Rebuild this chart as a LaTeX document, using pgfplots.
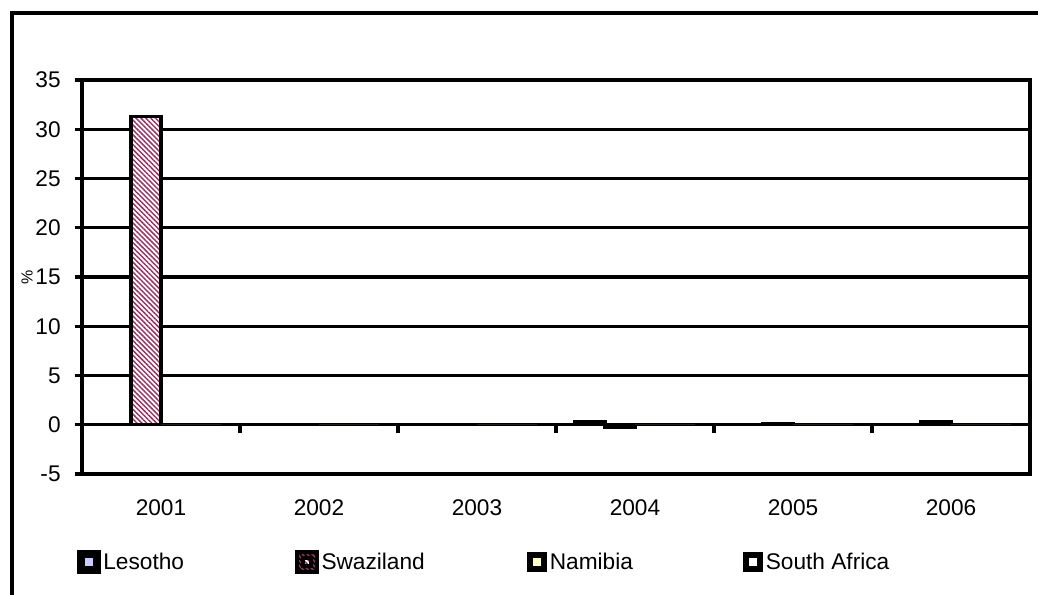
\documentclass[border=0pt]{standalone}
\usepackage{fontspec}
\setmainfont{Liberation Sans}
\usepackage{pgfplots}
\pgfplotsset{compat=1.18}
\usetikzlibrary{patterns.meta}
\definecolor{lesc}{RGB}{204,204,255}
\definecolor{swac}{RGB}{153,51,102}
\definecolor{namc}{RGB}{255,255,204}
\pgfplotsset{boxlegend/.style={legend image code/.code={%
  \fill[black] (0pt,-7.5pt) rectangle (15pt,7.5pt);
  \path[##1, draw=none] (4.5pt,-3pt) rectangle (10.5pt,3pt);}}}
\begin{document}
\begin{tikzpicture}[x=0.75pt,y=0.75pt]
\path[use as bounding box] (0,0) rectangle (1038,595);
\draw[line width=3pt] (12,0) -- (12,582) -- (1038,582);
\begin{axis}[
  at={(61.5pt,90.75pt)}, anchor=south west,
  scale only axis, width=711pt, height=295.5pt,
  xmin=0.5, xmax=6.5, ymin=-5, ymax=35,
  ybar=0pt, bar width=22.5pt,
  font=\fontsize{17}{20}\selectfont,
  /pgf/number format/assume math mode=true,
  xtick={1,2,3,4,5,6},
  xticklabels={2001,2002,2003,2004,2005,2006},
  x tick style={draw=none},
  xticklabel style={yshift=-10pt},
  ytick={-5,0,5,10,15,20,25,30,35},
  ytick pos=left, tick align=outside,
  major tick length=5.5pt,
  y tick style={black, line width=2.4pt},
  ymajorgrids, grid style={black, line width=2.5pt},
  axis line style={black, line width=2.6pt},
  yticklabel style={xshift=-7pt},
  ylabel={\%},
  ylabel style={at={(-0.058,0.5)}, anchor=center, font=\fontsize{12}{14}\selectfont},
  legend columns=4,
  legend style={draw=none, at={(-0.0053,-0.2234)}, anchor=west, inner sep=0pt,
    font=\fontsize{17}{20}\selectfont,
    /tikz/every odd column/.append style={column sep=0pt},
    /tikz/every even column/.append style={column sep=0pt}},
]
\addplot[boxlegend, draw=black, line width=2.6pt, fill=lesc] coordinates {(4,0.3)};
\addplot[boxlegend, draw=black, line width=2.6pt, fill=white, postaction={pattern={Lines[angle=-45,distance=2.6pt,line width=1.1pt]}, pattern color=swac}] coordinates {(1,31.3) (4,-0.25) (5,0.15) (6,0.3)};
\addplot[boxlegend, draw=none, fill=namc] coordinates {(1,0) (2,0) (3,0) (4,0) (5,0) (6,0)};
\addplot[boxlegend, draw=none, fill=white] coordinates {(1,0) (2,0) (3,0) (4,0) (5,0) (6,0)};
\legend{\makebox[142pt][l]{Lesotho},\makebox[152.25pt][l]{Swaziland},\makebox[143pt][l]{Namibia},South Africa}
\draw[black, line width=2.4pt] (axis cs:1.5,0) -- ++(0pt,-6pt);
\draw[black, line width=2.4pt] (axis cs:2.5,0) -- ++(0pt,-6pt);
\draw[black, line width=2.4pt] (axis cs:3.5,0) -- ++(0pt,-6pt);
\draw[black, line width=2.4pt] (axis cs:4.5,0) -- ++(0pt,-6pt);
\draw[black, line width=2.4pt] (axis cs:5.5,0) -- ++(0pt,-6pt);
\end{axis}
\end{tikzpicture}
\end{document}
